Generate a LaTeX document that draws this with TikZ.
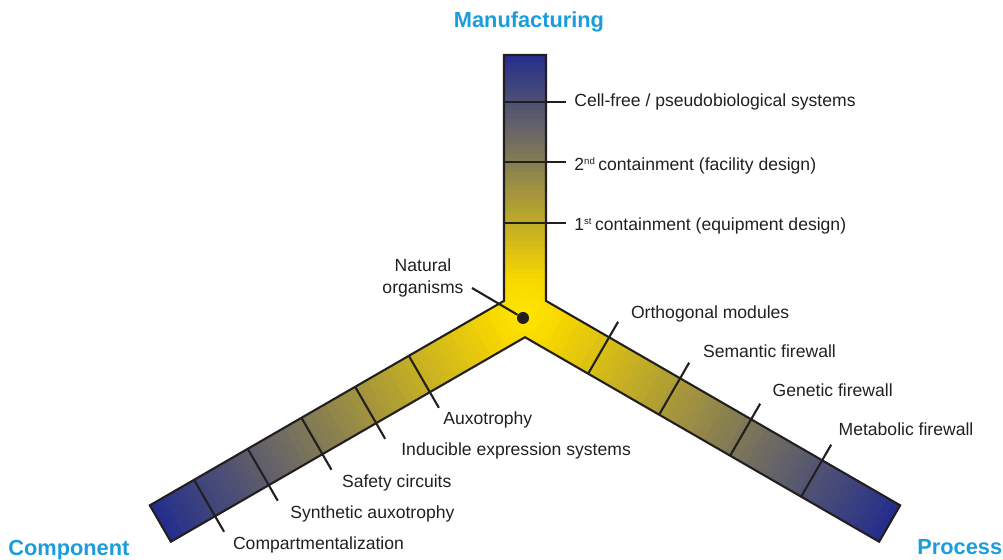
\documentclass[tikz,border=0pt]{standalone}
\usepackage{fontspec}
\setmainfont{Liberation Sans}
\usetikzlibrary{calc}
\definecolor{armblue}{RGB}{36,46,140}
\definecolor{armgray}{RGB}{112,108,98}
\definecolor{armyellow}{RGB}{246,214,0}
\definecolor{coreyellow}{RGB}{255,230,0}
\definecolor{ttlblue}{RGB}{27,157,219}
\definecolor{ink}{RGB}{35,31,32}
\newcommand{\ordsup}[1]{\raisebox{0.75ex}{\fontsize{5.5}{6}\selectfont #1}\kern2pt}

\begin{document}
\begin{tikzpicture}[x=0.02cm, y=0.02cm,
  every node/.style={font=\fontsize{10}{12.5}\selectfont, text=ink, inner sep=0pt},
  lbl/.style={anchor=base west},
  ttl/.style={font=\fontsize{12.4}{14}\selectfont\bfseries, text=ttlblue},
  outl/.style={draw=ink, line width=1.2pt, line join=miter},
  tickline/.style={draw=ink, line width=1.2pt}]
\useasboundingbox (0,0) rectangle (1003,560);
\coordinate (ctr) at (525,247);
% Arm corners
\foreach \ang/\len/\nm in {90/258/v, 330/421/r, 210/421/l}{
  \begin{scope}[shift={(ctr)}, rotate=\ang]
    \coordinate (\nm-in) at (12.12,21);
    \coordinate (\nm-e1) at (\len,21);
    \coordinate (\nm-e2) at (\len,-21);
  \end{scope}
}
% Yellow core
\fill[armyellow] (v-in) -- (v-e1) -- (v-e2) -- (r-in) -- (r-e1) -- (r-e2) -- (l-in) -- (l-e1) -- (l-e2) -- cycle;
\begin{scope}
  \clip (v-in) -- (v-e1) -- (v-e2) -- (r-in) -- (r-e1) -- (r-e2) -- (l-in) -- (l-e1) -- (l-e2) -- cycle;
  \shade[inner color=coreyellow, outer color=armyellow] (ctr) circle (40);
\end{scope}
% Arm gradients and ticks
\foreach \ang/\len/\ta/\tb/\ticks in {90/258/21/-41/{90,151,211}, 330/421/-21/39/{85,167,249,331}, 210/421/-21/39/{122,184,246,308,370}}{
  \begin{scope}[shift={(ctr)}, rotate=\ang]
    \pgfmathsetmacro\sm{35+0.62*(\len-35)}
    \foreach \i in {0,...,29}{
      \pgfmathsetmacro\sa{35+(\sm-35)*\i/30}
      \pgfmathsetmacro\sb{35+(\sm-35)*(\i+1)/30+0.8}
      \pgfmathtruncatemacro\q{100-100*(\i+0.5)/30}
      \fill[armyellow!\q!armgray] (\sa,-21) rectangle (\sb,21);
    }
    \foreach \i in {0,...,19}{
      \pgfmathsetmacro\sa{\sm+(\len-\sm)*\i/20}
      \pgfmathsetmacro\sb{\sm+(\len-\sm)*(\i+1)/20+0.8}
      \pgfmathtruncatemacro\q{100-100*(\i+0.5)/20}
      \fill[armgray!\q!armblue] (\sa,-21) rectangle (\sb,21);
    }
    \foreach \s in \ticks
      \draw[tickline] (\s,\ta) -- (\s,\tb);
  \end{scope}
}
% Outline
\draw[outl] (v-in) -- (v-e1) -- (v-e2) -- (r-in) -- (r-e1) -- (r-e2) -- (l-in) -- (l-e1) -- (l-e2) -- cycle;
% Natural organisms
\node[circle, fill=ink, minimum size=0.24cm] (dot) at (523,242) {};
\node[align=center] (nat) at (423,282.5) {Natural\\organisms};
\coordinate (natend) at (472,272);
\draw[tickline] (natend) -- (dot);
% Titles
\node[ttl, anchor=base] (manu) at (529,532) {Manufacturing};
\node[ttl, anchor=base west] (comp) at (8,4.2) {Component};
\node[ttl, anchor=base west] (proc) at (917,5.2) {Process};
% Manufacturing labels
\node[lbl] (cellfree) at (574,453.3) {Cell-free / pseudobiological systems};
\node[lbl] (cont2) at (574,389) {2\ordsup{nd}containment (facility design)};
\node[lbl] (cont1) at (574,329) {1\ordsup{st}containment (equipment design)};
% Component labels
\node[lbl] (auxo) at (443,135) {Auxotrophy};
\node[lbl] (induc) at (401,104) {Inducible expression systems};
\node[lbl] (safety) at (341.7,72.3) {Safety circuits};
\node[lbl] (synaux) at (290,41.3) {Synthetic auxotrophy};
\node[lbl] (compart) at (232.7,10) {Compartmentalization};
% Process labels
\node[lbl] (ortho) at (630.7,241.3) {Orthogonal modules};
\node[lbl] (semfw) at (702.7,202.3) {Semantic firewall};
\node[lbl] (genfw) at (772.3,163.3) {Genetic firewall};
\node[lbl] (metfw) at (838.3,124) {Metabolic firewall};
\end{tikzpicture}
\end{document}
